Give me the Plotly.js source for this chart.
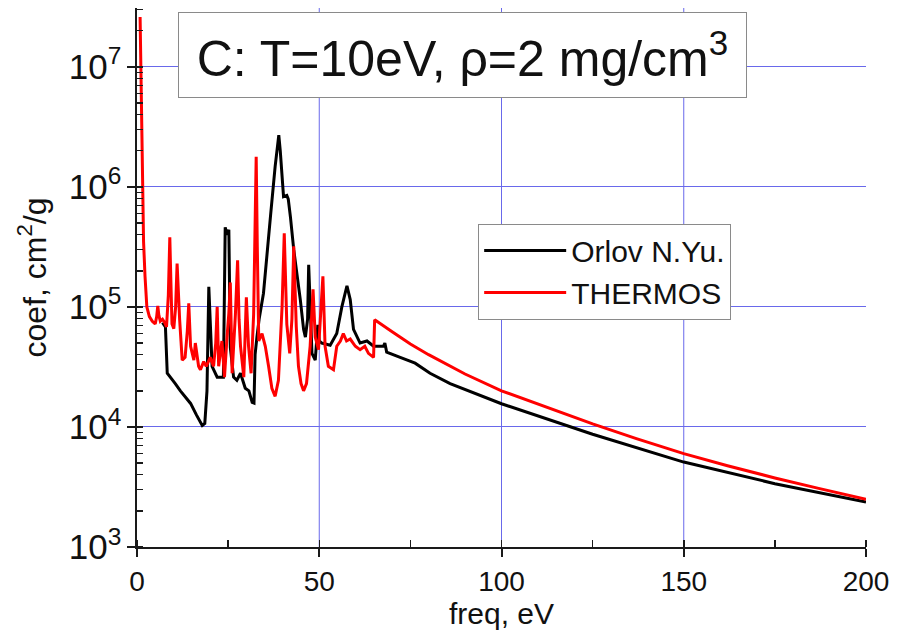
<!DOCTYPE html>
<html>
<head>
<meta charset="utf-8">
<script src="https://cdn.plot.ly/plotly-3.0.1.min.js"></script>
<style>html,body{margin:0;padding:0;background:#fff;}#chart{width:907px;height:634px;}</style>
</head>
<body>
<div id="chart"></div>
<script>
// Orlov N.Yu. (black)
const orlovFreq = [7.0,7.8,8.3,9.2,10.5,11.9,13.3,14.7,16.3,17.9,18.6,19.2,19.7,20.1,20.6,22.0,23.7,24.2,24.7,25.2,25.6,26.5,27.4,28.4,29.7,30.7,31.6,32.1,32.4,32.9,33.5,34.7,35.8,36.6,37.9,38.5,38.9,39.3,39.8,40.2,41.1,41.5,42.1,43.0,44.8,45.7,46.2,46.8,47.1,47.5,48.0,48.9,49.6,50.0,50.7,53.0,54.3,54.8,56.2,57.6,58.5,59.4,61.2,63.1,64.9,67.6,68.0,68.5,72.2,75.4,76.3,80.4,85.9,100,116,125,150,175,200];
const orlovCoef = [7.4e4,6.8e4,2.8e4,2.6e4,2.3e4,2.0e4,1.78e4,1.57e4,1.26e4,1.03e4,1.07e4,2.0e4,1.47e5,6.3e4,3.2e4,2.6e4,2.6e4,4.6e5,4.0e5,4.4e5,4.6e4,2.6e4,2.45e4,2.8e4,2.1e4,2.0e4,1.6e4,1.58e4,4.0e4,5.6e4,7.9e4,1.3e5,2.8e5,5.6e5,1.48e6,2.24e6,2.7e6,2.0e6,1.07e6,8.3e5,8.5e5,7.9e5,5.6e5,3.0e5,1.15e5,6.5e4,5.6e4,7.9e4,2.24e5,1.0e5,4.1e4,3.6e4,7.1e4,5.2e4,5.0e4,4.8e4,5.6e4,6.0e4,1.0e5,1.5e5,1.15e5,6.5e4,5.0e4,5.2e4,4.7e4,4.7e4,5.0e4,4.2e4,3.8e4,3.5e4,3.4e4,2.8e4,2.3e4,1.56e4,1.07e4,8.7e3,5.1e3,3.37e3,2.37e3];

// THERMOS (red)
const thermosFreq = [0.85,1.0,1.15,1.3,1.5,1.8,2.2,2.7,3.4,4.2,5.0,5.4,5.7,6.0,6.4,7.0,7.6,8.1,8.6,9.0,9.3,9.6,10.1,10.6,11.0,11.4,11.7,12.4,13.2,13.8,14.2,14.7,15.6,16.0,16.4,16.9,17.4,18.3,19.0,20.1,21.0,21.6,22.0,22.4,23.3,24.0,24.7,25.2,25.6,26.1,27.0,27.6,28.0,28.4,29.3,30.0,30.6,31.3,32.0,32.4,32.7,33.0,33.4,34.3,35.2,36.1,37.0,37.9,38.8,39.8,40.4,41.1,41.9,42.5,43.0,43.7,44.3,45.0,45.7,46.5,47.5,48.3,48.9,49.8,51.0,51.6,52.5,53.9,54.8,55.8,56.6,57.5,58.5,59.9,61.2,62.5,63.5,64.9,65.2,70,75,80,85.9,90,100,110,116,125,137,150,162,175,187,200];
const thermosCoef = [2.6e7,1.26e7,4.0e6,1.6e6,7.9e5,3.5e5,1.8e5,1.0e5,8.3e4,7.6e4,7.2e4,8.3e4,1.02e5,8.5e4,7.6e4,7.9e4,7.4e4,6.8e4,1.26e5,3.8e5,1.6e5,7.2e4,6.6e4,1.0e5,2.3e5,1.0e5,7.8e4,3.6e4,3.8e4,6.3e4,1.07e5,4.7e4,3.6e4,5.0e4,4.0e4,3.2e4,3.0e4,3.5e4,3.2e4,3.8e4,3.2e4,5.0e4,1.0e5,3.2e4,5.2e4,2.6e4,5.6e4,8.9e4,1.6e5,2.8e4,8.7e4,2.45e5,7.9e4,4.7e4,2.6e4,1.2e5,4.7e4,2.8e4,8.7e4,5.0e5,1.78e6,3.2e5,5.2e4,6.0e4,4.7e4,3.2e4,2.1e4,1.8e4,2.45e4,1.0e5,4.1e5,7.2e4,4.1e4,7.9e4,3.2e5,6.8e4,3.2e4,2.3e4,2.0e4,2.3e4,4.7e4,1.4e5,5.6e4,4.4e4,1.8e5,4.7e4,3.2e4,3.0e4,4.7e4,5.2e4,6.0e4,5.2e4,5.4e4,4.7e4,4.4e4,4.7e4,4.1e4,3.8e4,7.8e4,6.2e4,4.9e4,4.0e4,3.2e4,2.76e4,2.0e4,1.55e4,1.33e4,1.06e4,8.0e3,6.0e3,4.75e3,3.76e3,3.08e3,2.5e3];

const gridFreq = [50,100,150];
const seriesNames = ['Orlov N.Yu.','THERMOS'];
const chartTitle = 'C: T=10eV, \u03c1=2 mg/cm<sup>3</sup>';
const xTitle = 'freq, eV';
const yTitle = 'coef, cm<sup>2</sup>/g';

const FONT = 'Arial, "Liberation Sans", Helvetica, sans-serif';
const AX = '#1a1a1a';
const GRID = 'rgb(105,105,235)';

const traces = [
  {x: orlovFreq, y: orlovCoef, name: seriesNames[0], mode: 'lines', type: 'scatter',
   line: {color: '#000000', width: 3}},
  {x: thermosFreq, y: thermosCoef, name: seriesNames[1], mode: 'lines', type: 'scatter',
   line: {color: '#ff0000', width: 3}}
];

const gridShapes = gridFreq.map(v => ({
  type: 'line', xref: 'x', yref: 'paper', x0: v, x1: v, y0: 0, y1: 1,
  layer: 'below', line: {color: GRID, width: 1}
}));

const layout = {
  width: 907, height: 634,
  margin: {l: 137, r: 41, t: 8, b: 87, pad: 0},
  paper_bgcolor: '#fff', plot_bgcolor: '#fff',
  font: {family: FONT, color: '#111'},
  showlegend: true,
  legend: {x: 0.468, y: 0.600, xanchor: 'left', yanchor: 'top',
    bgcolor: '#fff', bordercolor: '#8a8a8a', borderwidth: 1,
    font: {family: FONT, size: 30, color: '#111'}, itemwidth: 82, tracegroupgap: 0},
  xaxis: {
    range: [0, 200], tickmode: 'linear', tick0: 0, dtick: 50,
    showline: true, linecolor: AX, linewidth: 2, mirror: false,
    ticks: 'outside', ticklen: 8, tickwidth: 2, tickcolor: AX,
    tickfont: {family: FONT, size: 28, color: '#111'},
    showgrid: false, zeroline: false,
    minor: {tickmode: 'linear', tick0: 0, dtick: 25, ticks: 'inside', ticklen: 7, tickwidth: 1.5, tickcolor: AX, showgrid: false},
    title: {text: xTitle, font: {family: FONT, size: 30, color: '#111'}, standoff: 4}
  },
  yaxis: {
    type: 'log', range: [3, 7.49], tickmode: 'linear', tick0: 0, dtick: 1,
    exponentformat: 'power', showexponent: 'all',
    showline: true, linecolor: AX, linewidth: 2, mirror: false,
    ticks: 'outside', ticklen: 8, tickwidth: 2, tickcolor: AX,
    tickfont: {family: FONT, size: 28, color: '#111'},
    showgrid: true, gridcolor: GRID, gridwidth: 1, zeroline: false,
    minor: {ticks: 'inside', ticklen: 6, tickwidth: 1.5, tickcolor: AX, showgrid: false},
    title: {text: yTitle, font: {family: FONT, size: 32, color: '#111'}, standoff: 13}
  },
  shapes: gridShapes,
  annotations: [{
    text: chartTitle, xref: 'paper', yref: 'paper', x: 0.4466, y: 0.9127,
    xanchor: 'center', yanchor: 'middle', showarrow: false,
    font: {family: FONT, size: 50, color: '#111'},
    bgcolor: '#fff', bordercolor: '#8a8a8a', borderwidth: 1, borderpad: 0,
    width: 567, height: 84, align: 'center'
  }]
};

Plotly.newPlot('chart', traces, layout, {displayModeBar: false, staticPlot: true});
</script>
</body>
</html>
